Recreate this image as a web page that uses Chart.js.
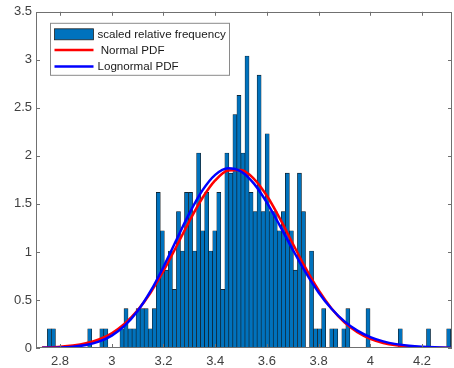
<!DOCTYPE html>
<html>
<head>
<meta charset="utf-8">
<script src="https://cdn.jsdelivr.net/npm/chart.js@4/dist/chart.umd.min.js"></script>
<style>
    html, body { margin: 0; padding: 0; background: #fff; }
</style>
</head>
<body>
<canvas id="hist-chart" width="454" height="368"></canvas>
<script>
// histogram bins (100 bins, pdf scaled)
var binStart = 2.751;
var binWidth = 0.0156;
var freq = [
    0.2, 0.2, 0, 0, 0, 0, 0, 0, 0, 0,
    0.2, 0, 0, 0.2, 0.2, 0, 0, 0, 0.2, 0.41,
    0.2, 0.2, 0.41, 0.41, 0.41, 0.2, 0.41, 1.62, 1.22, 0.81,
    1.01, 0.61, 1.42, 1.01, 1.62, 1.62, 1.01, 2.03, 1.22, 1.62,
    1.01, 1.22, 1.62, 0.61, 2.03, 1.82, 2.43, 2.63, 2.03, 3.04,
    1.62, 1.42, 2.84, 1.42, 2.23, 1.42, 1.42, 1.22, 1.42, 1.82,
    1.22, 0.81, 1.82, 1.42, 0, 1.01, 0.2, 0.2, 0.41, 0,
    0.2, 0.2, 0, 0.2, 0.41, 0, 0, 0, 0, 0.41,
    0, 0, 0, 0, 0, 0, 0, 0.2, 0, 0,
    0, 0, 0, 0, 0.2, 0, 0, 0, 0, 0.2
];

// fitted curves
var curveX = [2.73, 2.75, 2.8, 2.85, 2.9, 2.95, 3, 3.05, 3.1, 3.15, 3.2, 3.25, 3.3, 3.35, 3.4, 3.45, 3.5,
    3.55, 3.6, 3.65, 3.7, 3.75, 3.8, 3.85, 3.9, 3.95, 4, 4.05, 4.1, 4.15, 4.2, 4.25, 4.3, 4.32];
var normalPdf = [0.0041, 0.0057, 0.0123, 0.0251, 0.0485, 0.0888, 0.1538, 0.2523, 0.3917, 0.5756, 0.8017,
    1.0567, 1.319, 1.5587, 1.7442, 1.848, 1.854, 1.7615, 1.5844, 1.3495, 1.0884, 0.831, 0.601, 0.4114,
    0.2667, 0.1637, 0.0952, 0.0524, 0.0273, 0.0135, 0.0063, 0.0028, 0.0012, 0.0008];
var lognormalPdf = [0.0011, 0.0018, 0.0051, 0.0132, 0.031, 0.0661, 0.1292, 0.232, 0.3846, 0.5909, 0.8438,
    1.1239, 1.4008, 1.6382, 1.8027, 1.8717, 1.8379, 1.7109, 1.5134, 1.2746, 1.0242, 0.7868, 0.5788, 0.4084,
    0.277, 0.1808, 0.1138, 0.0691, 0.0405, 0.023, 0.0127, 0.0068, 0.0035, 0.0027];

var xTicks = [2.8, 3, 3.2, 3.4, 3.6, 3.8, 4, 4.2];
var yTicks = [0, 0.5, 1, 1.5, 2, 2.5, 3, 3.5];
var legendLabels = ["scaled relative frequency", " Normal PDF", "Lognormal PDF"];

var FONT = "'Liberation Sans', Arial, Helvetica, sans-serif";
var AXIS_COLOR = "#707070";

// bars at bin centres
var barData = freq.map(function (v, i) {
    return {x: binStart + binWidth * (i + 0.5), y: v};
});
function toPoints(ys) {
    return ys.map(function (v, i) { return {x: curveX[i], y: v}; });
}

// matlab-like box with inward ticks
var framePlugin = {
    id: "frame",
    afterDatasetsDraw: function (chart) {
        var ctx = chart.ctx, a = chart.chartArea;
        var sx = chart.scales.x, sy = chart.scales.y;
        var len = 4;
        ctx.save();
        ctx.strokeStyle = AXIS_COLOR;
        ctx.lineWidth = 1;
        ctx.strokeRect(Math.round(a.left) + 0.5, Math.round(a.top) + 0.5,
            Math.round(a.right - a.left) - 1, Math.round(a.bottom - a.top) - 1);
        ctx.beginPath();
        xTicks.forEach(function (t) {
            var px = Math.round(sx.getPixelForValue(t)) + 0.5;
            ctx.moveTo(px, a.bottom); ctx.lineTo(px, a.bottom - len);
            ctx.moveTo(px, a.top); ctx.lineTo(px, a.top + len);
        });
        yTicks.forEach(function (t) {
            var py = Math.round(sy.getPixelForValue(t)) + 0.5;
            ctx.moveTo(a.left, py); ctx.lineTo(a.left + len, py);
            ctx.moveTo(a.right, py); ctx.lineTo(a.right - len, py);
        });
        ctx.stroke();
        ctx.restore();
    },
    afterDraw: function (chart) {
        // legend box in the upper left corner
        var ctx = chart.ctx, a = chart.chartArea;
        var ds = chart.data.datasets;
        var bx = a.left + 14.5, by = a.top + 11.5, bw = 179, bh = 52;
        ctx.save();
        ctx.fillStyle = "#fff";
        ctx.fillRect(bx, by, bw, bh);
        ctx.strokeStyle = "#8a8a8a";
        ctx.lineWidth = 1;
        ctx.strokeRect(bx, by, bw, bh);
        ctx.font = "11.6px " + FONT;
        ctx.textBaseline = "middle";
        for (var i = 0; i < 3; i++) {
            var cy = by + 10.5 + i * 16.3;
            var x0 = bx + 4, x1 = bx + 43;
            if (i == 0) {
                ctx.fillStyle = ds[0].backgroundColor;
                ctx.fillRect(x0, cy - 5, x1 - x0, 11);
                ctx.strokeStyle = "#222";
                ctx.lineWidth = 0.8;
                ctx.strokeRect(x0, cy - 5, x1 - x0, 11);
            } else {
                ctx.strokeStyle = ds[i].borderColor;
                ctx.lineWidth = 2.5;
                ctx.beginPath();
                ctx.moveTo(x0, cy); ctx.lineTo(x1, cy);
                ctx.stroke();
            }
            ctx.fillStyle = "#1a1a1a";
            ctx.fillText(legendLabels[i], bx + 47, cy + 0.5);
        }
        ctx.restore();
    }
};

var ctx = document.getElementById("hist-chart");
var chart = new Chart(ctx, {
    type: "bar",
    data: {
        datasets: [{
            label: legendLabels[0],
            data: barData,
            backgroundColor: "#0072BD",
            borderColor: "#111",
            borderWidth: 0.6,
            barPercentage: 1,
            categoryPercentage: 1,
            order: 3
        }, {
            type: "line",
            label: legendLabels[1],
            data: toPoints(normalPdf),
            borderColor: "#FF0000",
            borderWidth: 2.5,
            pointRadius: 0,
            cubicInterpolationMode: "monotone",
            fill: false,
            order: 2
        }, {
            type: "line",
            label: legendLabels[2],
            data: toPoints(lognormalPdf),
            borderColor: "#0000FF",
            borderWidth: 2.5,
            pointRadius: 0,
            cubicInterpolationMode: "monotone",
            fill: false,
            order: 1
        }]
    },
    options: {
        responsive: false,
        animation: false,
        layout: {padding: {top: 7, right: 2, left: 0, bottom: 0}},
        plugins: {
            legend: {display: false},
            tooltip: {enabled: false}
        },
        scales: {
            x: {
                type: "linear",
                offset: false,
                min: 2.707,
                max: 4.316,
                grid: {display: false, drawTicks: false},
                border: {display: false},
                afterBuildTicks: function (s) {
                    s.ticks = xTicks.map(function (v) { return {value: v}; });
                },
                afterFit: function (s) { s.height = 20; },
                ticks: {
                    color: "#404040",
                    font: {family: FONT, size: 13},
                    padding: 6,
                    maxRotation: 0,
                    callback: function (v) { return String(v); }
                }
            },
            y: {
                min: 0,
                max: 3.5,
                grid: {display: false, drawTicks: false},
                border: {display: false},
                afterBuildTicks: function (s) {
                    s.ticks = yTicks.map(function (v) { return {value: v}; });
                },
                afterFit: function (s) { s.width = 36; },
                ticks: {
                    color: "#404040",
                    font: {family: FONT, size: 13},
                    padding: 4,
                    callback: function (v) { return String(v); }
                }
            }
        }
    },
    plugins: [framePlugin]
});
</script>
</body>
</html>
